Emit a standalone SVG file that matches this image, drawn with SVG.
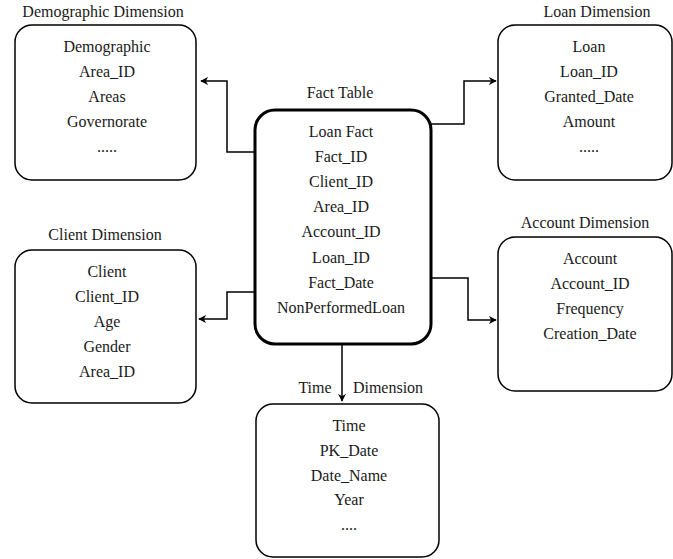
<svg xmlns="http://www.w3.org/2000/svg" width="673" height="559" viewBox="0 0 673 559">
<defs>
<marker id="arr" viewBox="0 0 10 10" refX="9" refY="5" markerWidth="8" markerHeight="8" markerUnits="userSpaceOnUse" orient="auto">
<path d="M0,0 L10,5 L0,10 L3,5 Z" fill="#000"/>
</marker>
</defs>
<style>
text{font-family:"Liberation Serif","Times New Roman",serif;font-size:16px;fill:#1a1a1a;text-anchor:middle}
.box{fill:#fff;stroke:#000;stroke-width:1.5}
.fact{fill:#fff;stroke:#000;stroke-width:3}
.conn{fill:none;stroke:#000;stroke-width:1.5;marker-end:url(#arr)}
</style>
<rect width="673" height="559" fill="#fff"/>
<g id="connectors">
<polyline class="conn" points="255,152 227,152 227,81 201,81"/>
<polyline class="conn" points="431,124 464,124 464,81 496,81"/>
<polyline class="conn" points="255,292 227,292 227,319 199,319"/>
<polyline class="conn" points="431,278 468,278 468,320 496,320"/>
<polyline class="conn" points="342,344 342,401"/>
</g>
<g id="demographic">
<text x="103" y="17">Demographic Dimension</text>
<rect class="box" x="15" y="25" width="181" height="155" rx="17"/>
<text x="107" y="52">Demographic</text>
<text x="107" y="77">Area_ID</text>
<text x="107" y="102">Areas</text>
<text x="107" y="127">Governorate</text>
<text x="107" y="152">.....</text>
</g>
<g id="fact">
<text x="340" y="98">Fact Table</text>
<rect class="fact" x="255" y="110" width="176" height="234" rx="20"/>
<text x="341" y="137">Loan Fact</text>
<text x="341" y="162">Fact_ID</text>
<text x="341" y="187">Client_ID</text>
<text x="341" y="212">Area_ID</text>
<text x="341" y="237">Account_ID</text>
<text x="341" y="263">Loan_ID</text>
<text x="341" y="288">Fact_Date</text>
<text x="341" y="313">NonPerformedLoan</text>
</g>
<g id="loan">
<text x="597" y="17">Loan Dimension</text>
<rect class="box" x="498" y="25" width="174" height="155" rx="17"/>
<text x="589" y="52">Loan</text>
<text x="589" y="77">Loan_ID</text>
<text x="589" y="102">Granted_Date</text>
<text x="589" y="127">Amount</text>
<text x="589" y="152">.....</text>
</g>
<g id="client">
<text x="105" y="240">Client Dimension</text>
<rect class="box" x="15" y="250" width="181" height="153" rx="17"/>
<text x="107" y="277">Client</text>
<text x="107" y="302">Client_ID</text>
<text x="107" y="327">Age</text>
<text x="107" y="352">Gender</text>
<text x="107" y="377">Area_ID</text>
</g>
<g id="account">
<text x="585" y="228">Account Dimension</text>
<rect class="box" x="498" y="237" width="174" height="154" rx="17"/>
<text x="590" y="264">Account</text>
<text x="590" y="289">Account_ID</text>
<text x="590" y="314">Frequency</text>
<text x="590" y="339">Creation_Date</text>
</g>
<g id="time">
<text x="315" y="393">Time</text>
<text x="388" y="393">Dimension</text>
<rect class="box" x="256" y="404" width="183" height="153" rx="17"/>
<text x="349" y="431">Time</text>
<text x="349" y="456">PK_Date</text>
<text x="349" y="481">Date_Name</text>
<text x="349" y="505">Year</text>
<text x="349" y="530">....</text>
</g>
</svg>
